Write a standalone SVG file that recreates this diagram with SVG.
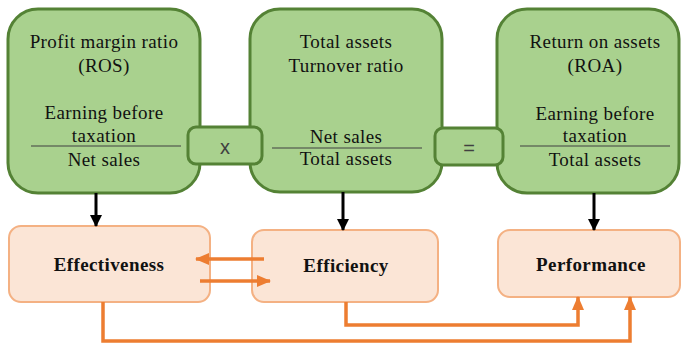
<svg xmlns="http://www.w3.org/2000/svg" width="681" height="343" viewBox="0 0 681 343">
<defs>
<style>
.g{fill:#a9d18e;stroke:#548235;stroke-width:3}
.o{fill:#fbe5d6;stroke:#f4b183;stroke-width:2}
.t{font-family:"Liberation Serif","Times New Roman",serif;font-size:19px;fill:#111;text-anchor:middle;letter-spacing:0.4px}
.b{font-family:"Liberation Serif","Times New Roman",serif;font-size:19px;font-weight:bold;fill:#111;text-anchor:middle;letter-spacing:0.4px}
.s{font-family:"Liberation Sans",Arial,sans-serif;font-size:20px;fill:#404040;text-anchor:middle}
.fr{stroke:#404040;stroke-width:1.2}
.k{fill:none;stroke:#000;stroke-width:3}
.a{fill:none;stroke:#ed7d31;stroke-width:3.5}
</style>
<marker id="mk" markerUnits="userSpaceOnUse" markerWidth="12" markerHeight="12" viewBox="0 0 12 12" refX="11" refY="6" orient="auto"><path d="M0,0 L12,6 L0,12 Z" fill="#000"/></marker>
<marker id="mo" markerUnits="userSpaceOnUse" markerWidth="14" markerHeight="12" viewBox="0 0 14 12" refX="13" refY="6" orient="auto"><path d="M0,0 L14,6 L0,12 Z" fill="#ed7d31"/></marker>
</defs>
<g id="ros">
<rect class="g" x="8" y="9" width="192" height="184" rx="30"/>
<text class="t" x="104" y="48">Profit margin ratio</text>
<text class="t" x="104" y="72">(ROS)</text>
<text class="t" x="104" y="119">Earning before</text>
<text class="t" x="104" y="142">taxation</text>
<line class="fr" x1="31" y1="146" x2="181" y2="146"/>
<text class="t" x="104" y="166">Net sales</text>
</g>
<g id="turnover">
<rect class="g" x="250" y="9" width="192" height="183" rx="30"/>
<text class="t" x="346" y="48">Total assets</text>
<text class="t" x="346" y="72">Turnover ratio</text>
<text class="t" x="346" y="143">Net sales</text>
<line class="fr" x1="272" y1="148" x2="422" y2="148"/>
<text class="t" x="346" y="165">Total assets</text>
</g>
<g id="roa">
<rect class="g" x="497" y="9" width="182" height="184" rx="30"/>
<text class="t" x="595" y="48">Return on assets</text>
<text class="t" x="595" y="72">(ROA)</text>
<text class="t" x="595" y="120">Earning before</text>
<text class="t" x="595" y="142">taxation</text>
<line class="fr" x1="520" y1="146" x2="670" y2="146"/>
<text class="t" x="595" y="166">Total assets</text>
</g>
<g id="times">
<rect class="g" x="188" y="127" width="74" height="37" rx="8"/>
<text class="s" x="225" y="154">x</text>
</g>
<g id="equals">
<rect class="g" x="435" y="128" width="68" height="37" rx="8"/>
<text class="s" x="469" y="155">=</text>
</g>
<g id="effectiveness">
<rect class="o" x="9" y="226" width="201" height="76" rx="12"/>
<text class="b" x="109" y="271">Effectiveness</text>
</g>
<g id="efficiency">
<rect class="o" x="252" y="230" width="186" height="72" rx="12"/>
<text class="b" x="346" y="272">Efficiency</text>
</g>
<g id="performance">
<rect class="o" x="498" y="230" width="182" height="67" rx="12"/>
<text class="b" x="591" y="271">Performance</text>
</g>
<g id="connectors">
<line class="k" x1="96" y1="193" x2="96" y2="226" marker-end="url(#mk)"/>
<line class="k" x1="343" y1="192" x2="343" y2="230" marker-end="url(#mk)"/>
<line class="k" x1="594" y1="193" x2="594" y2="230" marker-end="url(#mk)"/>
<line class="a" x1="264" y1="259" x2="196" y2="259" marker-end="url(#mo)"/>
<line class="a" x1="200" y1="281" x2="270" y2="281" marker-end="url(#mo)"/>
<polyline class="a" points="346,302 346,325 578,325 578,297" marker-end="url(#mo)"/>
<polyline class="a" points="103,302 103,341 630,341 630,297" marker-end="url(#mo)"/>
</g>
</svg>
